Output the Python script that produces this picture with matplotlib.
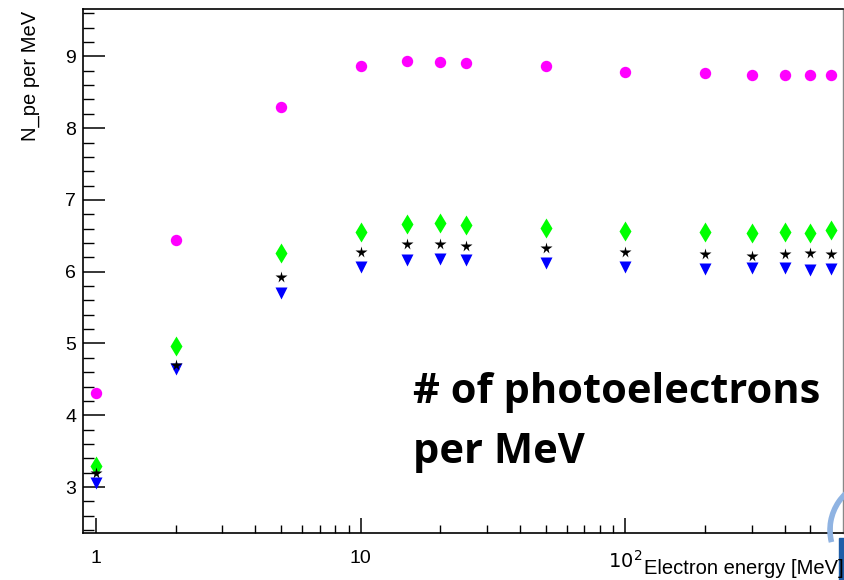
import numpy as np
import matplotlib
matplotlib.use("Agg")
import matplotlib.pyplot as plt
from matplotlib.ticker import FixedLocator, NullFormatter, MultipleLocator
from matplotlib.patches import Arc, Rectangle

# electron energies [MeV]
energy = [1, 2, 5, 10, 15, 20, 25, 50, 100, 200, 300, 400, 500, 600]

# N_pe per MeV for the four configurations
npe_magenta = [4.31, 6.44, 8.29, 8.87, 8.935, 8.926, 8.91, 8.865, 8.786, 8.77, 8.735, 8.745, 8.745, 8.745]
npe_green = [3.30, 4.97, 6.26, 6.56, 6.67, 6.675, 6.646, 6.61, 6.57, 6.55, 6.535, 6.56, 6.535, 6.58]
npe_star = [3.20, 4.70, 5.93, 6.275, 6.386, 6.386, 6.36, 6.33, 6.28, 6.25, 6.22, 6.25, 6.26, 6.24]
npe_blue = [3.05, 4.64, 5.71, 6.07, 6.16, 6.18, 6.16, 6.12, 6.07, 6.04, 6.045, 6.045, 6.02, 6.04]

plt.rcParams['font.family'] = ['Liberation Sans', 'DejaVu Sans']

W, H = 844, 580
fig = plt.figure(figsize=(W / 100, H / 100), dpi=100)
ax = fig.add_axes([83 / W, (H - 533) / H, (843 - 83) / W, (533 - 9) / H])

ax.plot(energy, npe_magenta, 'o', color='#ff00ff', ms=8.2, mec='none', zorder=3)
ax.plot(energy, npe_blue, 'v', color='#0000ff', ms=8.5, mec='none', zorder=3)
ax.plot(energy, npe_green, 'd', color='#00ff00', ms=10.5, mec='none', zorder=4)
ax.plot(energy, npe_star, '*', color='black', ms=8.5, mec='none', zorder=5)

ax.set_xscale('log')
ax.set_xlim(0.893, 665)
ax.set_ylim(2.36, 9.66)

major_x = [1, 10, 100]
minor_x = [m * d for d in (1, 10, 100) for m in range(2, 10) if m * d < 665]
ax.xaxis.set_major_locator(FixedLocator(major_x))
ax.xaxis.set_minor_locator(FixedLocator(minor_x))
ax.xaxis.set_minor_formatter(NullFormatter())
ax.set_xticklabels(['1', '10', r'$10^{2}$'])
ax.yaxis.set_major_locator(MultipleLocator(1))
ax.yaxis.set_minor_locator(MultipleLocator(0.2))

ax.tick_params(axis='both', which='both', direction='in', color='black', labelsize=14)
ax.tick_params(axis='y', which='major', length=16, width=1.1, pad=5)
ax.tick_params(axis='y', which='minor', length=8, width=1.0)
ax.tick_params(axis='x', which='major', length=11, width=1.1, pad=12)
ax.tick_params(axis='x', which='minor', length=6, width=1.0)

for side in ['left', 'bottom', 'top']:
    ax.spines[side].set_linewidth(1.2)
ax.spines['right'].set_color('#888888')
ax.spines['right'].set_linewidth(1.0)

fig.text(30 / W, 1 - 11 / H, 'N_pe per MeV', rotation=90, ha='center', va='top', fontsize=14.5)
fig.text(1.0, 1 - 569 / H, 'Electron energy [MeV]', ha='right', va='center', fontsize=14.5)

big = dict(ha='left', va='baseline', fontsize=30, fontweight='bold', family=['Open Sans', 'DejaVu Sans'])
fig.text(413 / W, 1 - 403 / H, '# of photoelectrons', **big)
fig.text(413 / W, 1 - 463 / H, 'per MeV', **big)

# corner of a logo, partly outside the picture
arc = Arc((880 / W, 1 - 530 / H), 100 / W, 100 / H, theta1=95, theta2=200,
          transform=fig.transFigure, color='#8fb3e2', lw=4, clip_on=False)
fig.add_artist(arc)
fig.add_artist(Rectangle((839 / W, 0), 6 / W, 42 / H, transform=fig.transFigure,
                         color='#1f5ea8', clip_on=False))

fig.savefig('out.png', dpi=100)
